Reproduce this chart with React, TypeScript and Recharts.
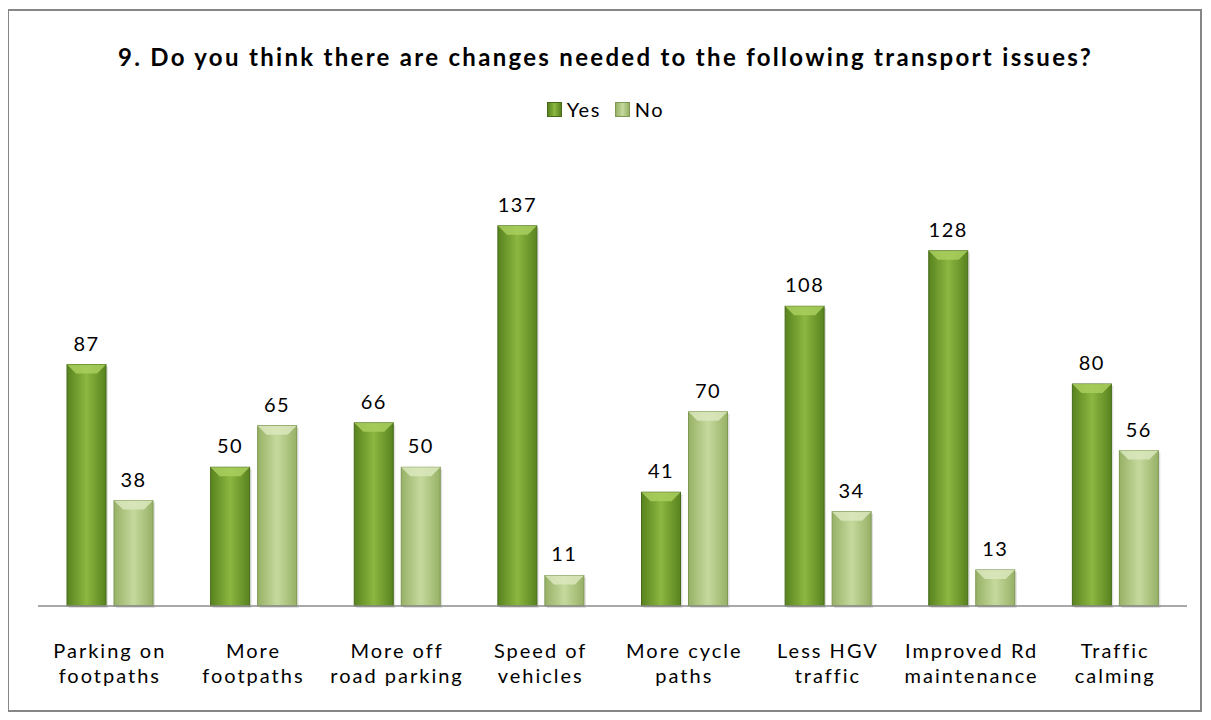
import { BarChart, Bar, XAxis, YAxis, Legend, LabelList } from 'recharts'

const categories = [
  'Parking on\nfootpaths',
  'More\nfootpaths',
  'More off\nroad parking',
  'Speed of\nvehicles',
  'More cycle\npaths',
  'Less HGV\ntraffic',
  'Improved Rd\nmaintenance',
  'Traffic\ncalming',
]
const yesValues = [87, 50, 66, 137, 41, 108, 128, 80]
const noValues = [38, 65, 50, 11, 70, 34, 13, 56]

const data = categories.map((name, i) => ({ name, yes: yesValues[i], no: noValues[i] }))

const FONT = 'Lato, "Open Sans", sans-serif'

const PALETTE = {
  yes: { edge: '#58831f', mid: '#8cb740', top: '#a9cf5e', stroke: '#466a17' },
  no: { edge: '#97b166', mid: '#c5d99d', top: '#dbe8bd', stroke: '#7f9853' },
}

function makeShape(kind: 'yes' | 'no') {
  const c = PALETTE[kind]
  return (props: any) => {
    const { x, y, width, height } = props
    if (!height || height <= 0) return <g />
    const b = Math.min(9, height / 2)
    return (
      <g>
        <rect x={x + 2} y={y + 2} width={width} height={height} fill="#000" opacity={0.12} />
        <rect x={x} y={y} width={width} height={height} fill={`url(#grad-${kind})`} stroke={c.stroke} strokeWidth={1} />
        <polygon
          points={`${x},${y} ${x + width},${y} ${x + width - b},${y + b} ${x + b},${y + b}`}
          fill={c.top}
          opacity={0.85}
        />
      </g>
    )
  }
}

function XTick({ x, y, payload }: any) {
  const lines = String(payload.value).split('\n')
  return (
    <text x={x} y={y} textAnchor="middle" fontFamily={FONT} fontSize={20} letterSpacing={2} fill="#000">
      {lines.map((l, i) => (
        <tspan key={i} x={x} y={y + 44 + i * 25}>{l}</tspan>
      ))}
    </text>
  )
}

function LegendContent() {
  const items = [
    { label: 'Yes', kind: 'yes' as const },
    { label: 'No', kind: 'no' as const },
  ]
  return (
    <div style={{ display: 'flex', justifyContent: 'center', gap: 14, fontFamily: FONT, fontSize: 20, letterSpacing: 1.5 }}>
      {items.map((it) => {
        const c = PALETTE[it.kind]
        return (
          <div key={it.label} style={{ display: 'flex', alignItems: 'center', gap: 5 }}>
            <span
              style={{
                display: 'inline-block',
                width: 13,
                height: 13,
                background: `linear-gradient(90deg, ${c.edge}, ${c.mid}, ${c.edge})`,
                border: `1px solid ${c.stroke}`,
              }}
            />
            <span>{it.label}</span>
          </div>
        )
      })}
    </div>
  )
}

export default function App() {
  return (
    <div style={{ position: 'relative', width: 1196, height: 704 }}>
      <div
        style={{
          position: 'absolute',
          left: -1,
          top: 1,
          width: 1195,
          height: 703,
          border: '2px solid #868686',
          boxSizing: 'border-box',
          pointerEvents: 'none',
        }}
      />
      <div
        style={{
          position: 'absolute',
          left: 0,
          top: 34,
          width: 1195,
          textAlign: 'center',
          fontFamily: FONT,
          fontWeight: 'bold',
          fontSize: 24,
          letterSpacing: 2.3,
          color: '#000',
        }}
      >
        9. Do you think there are changes needed to the following transport issues?
      </div>
      <BarChart
        width={1195}
        height={704}
        data={data}
        margin={{ top: 154, right: 16, bottom: 16, left: 30 }}
        barCategoryGap="20%"
        barGap={8}
      >
        <defs>
          <linearGradient id="grad-yes" x1="0" y1="0" x2="1" y2="0">
            <stop offset="0%" stopColor={PALETTE.yes.edge} />
            <stop offset="50%" stopColor={PALETTE.yes.mid} />
            <stop offset="100%" stopColor={PALETTE.yes.edge} />
          </linearGradient>
          <linearGradient id="grad-no" x1="0" y1="0" x2="1" y2="0">
            <stop offset="0%" stopColor={PALETTE.no.edge} />
            <stop offset="50%" stopColor={PALETTE.no.mid} />
            <stop offset="100%" stopColor={PALETTE.no.edge} />
          </linearGradient>
        </defs>
        <XAxis
          dataKey="name"
          height={90}
          interval={0}
          tickLine={false}
          axisLine={{ stroke: '#8c8c8c', strokeWidth: 1.5 }}
          tick={<XTick />}
        />
        <YAxis hide domain={[0, 160]} />
        <Legend
          verticalAlign="middle"
          align="center"
          wrapperStyle={{ top: 89, left: 0, width: 1195 }}
          content={<LegendContent />}
        />
        <Bar dataKey="yes" name="Yes" barSize={39} shape={makeShape('yes')} isAnimationActive={false}>
          <LabelList dataKey="yes" position="top" offset={14} fontFamily={FONT} fontSize={20} letterSpacing={1.5} fill="#000" />
        </Bar>
        <Bar dataKey="no" name="No" barSize={39} shape={makeShape('no')} isAnimationActive={false}>
          <LabelList dataKey="no" position="top" offset={14} fontFamily={FONT} fontSize={20} letterSpacing={1.5} fill="#000" />
        </Bar>
      </BarChart>
    </div>
  )
}
